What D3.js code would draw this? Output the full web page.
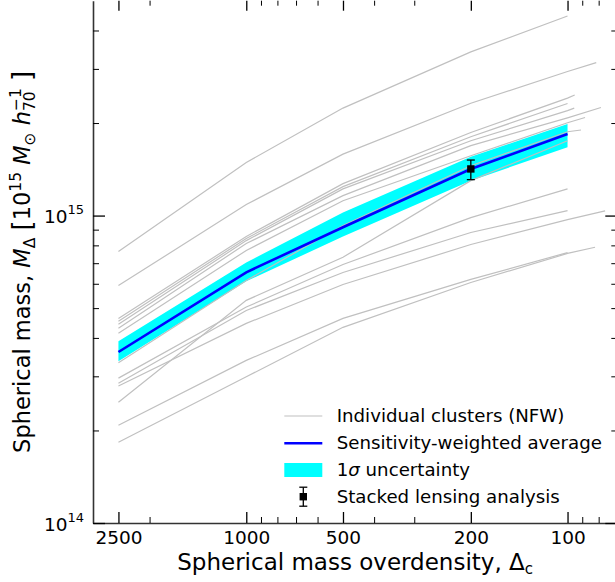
<!DOCTYPE html>
<html><head><meta charset="utf-8">
<script src="https://cdn.jsdelivr.net/npm/d3@7"></script>
<style>
body{margin:0;background:#fff}
svg{display:block}
text{font-family:"DejaVu Sans",sans-serif;fill:#000}
</style>
</head><body>
<svg id="chart" width="615" height="582"></svg>
<script>
// ---- data (masses in units of 10^14 Msun h70^-1) ----
const overdensities = [2500, 1000, 500, 200, 100];
const clusterMasses = [
  [7.64, 14.89, 22.37, 34.08, 44.6],
  [5.92, 10.86, 15.84, 23.19, 29.41],
  [4.63, 8.55, 12.70, 18.64, 24.10],
  [4.53, 8.42, 12.42, 18.05, 23.16],
  [4.43, 8.29, 12.21, 17.52, 21.95],
  [4.30, 8.11, 11.61, 16.88, 20.80],
  [4.14, 7.70, 11.18, 15.66, 20.04],
  [3.32, 6.15, 9.28, 14.53, 18.74],
  [2.47, 5.30, 7.32, 12.99, 17.52],
  [2.96, 5.04, 6.93, 9.85, 12.21],
  [2.85, 4.91, 6.53, 8.81, 10.38],
  [2.79, 4.46, 5.97, 8.05, 9.70],
  [2.08, 3.38, 4.63, 6.20, 7.58],
  [1.83, 2.99, 4.33, 6.06, 7.53]
];
const clusterEndDelta = [null, 81.4, 95, null, 95.3, 78.7, 88.2, 90.8, null, null, null, 76.4, null, 82.1];
const clusterEndMass  = [null, 31.46, 24.66, null, 22.37, 22.47, 20.85, 18.98, null, null, null, 10.36, null, 7.89];
const meanMass  = [3.60, 6.54, 9.16, 14.18, 18.42];
const bandLow   = [3.36, 6.11, 8.55, 12.99, 16.67];
const bandHigh  = [3.90, 7.04, 10.23, 15.54, 19.85];
const stackedDelta = [200];
const stackedMass  = [14.18];
const stackedLow   = [13.09];
const stackedHigh  = [15.16];
const xMajorTicks = [2500, 1000, 500, 200, 100];
const xMinorTicks = [2000, 900, 800, 700, 600, 400, 300, 90, 80];
const yMajorTicks = [1, 10];
const yMajorExp   = ["14", "15"];
const yMinorTicks = [2, 3, 4, 5, 6, 7, 8, 9, 20, 30, 40];
const legendLabels = ["Individual clusters (NFW)", "Sensitivity-weighted average", "1σ uncertainty", "Stacked lensing analysis"];

// ---- layout ----
const L = 93, R = 617.3, T = 0.7, B = 523;
const svg = d3.select("#chart");
const x = d3.scaleLog().domain([3000, 70]).range([L, R]);
const y = d3.scaleLog().domain([1, 50]).range([B, T]);

const GRAY = "#c0c0c0", BLUE = "#0000ff", CYAN = "#00ffff";

// band
const bandData = overdensities.map((d, i) => ({d, lo: bandLow[i], hi: bandHigh[i]}));
svg.append("path").datum(bandData)
  .attr("d", d3.area().x(p => x(p.d)).y0(p => y(p.lo)).y1(p => y(p.hi)))
  .attr("fill", CYAN).attr("stroke", "none");

// cluster lines
const line = d3.line().x(p => x(p[0])).y(p => y(p[1]));
clusterMasses.forEach((ms, i) => {
  const pts = overdensities.map((d, j) => [d, ms[j]]);
  if (clusterEndDelta[i] !== null) pts.push([clusterEndDelta[i], clusterEndMass[i]]);
  svg.append("path").datum(pts).attr("d", line)
    .attr("fill", "none").attr("stroke", GRAY).attr("stroke-width", 1.2);
});

// mean line
svg.append("path").datum(overdensities.map((d, j) => [d, meanMass[j]])).attr("d", line)
  .attr("fill", "none").attr("stroke", BLUE).attr("stroke-width", 2.6);

// stacked point
stackedDelta.forEach((d, i) => {
  const cx = x(d);
  const g = svg.append("g");
  g.append("line").attr("x1", cx).attr("x2", cx).attr("y1", y(stackedLow[i])).attr("y2", y(stackedHigh[i]))
    .attr("stroke", "#000").attr("stroke-width", 1.3);
  [stackedLow[i], stackedHigh[i]].forEach(v => g.append("line")
    .attr("x1", cx - 4).attr("x2", cx + 4).attr("y1", y(v)).attr("y2", y(v))
    .attr("stroke", "#000").attr("stroke-width", 1.3));
  g.append("rect").attr("x", cx - 3.7).attr("y", y(stackedMass[i]) - 3.7).attr("width", 7.4).attr("height", 7.4).attr("fill", "#000");
});

// ---- axes ----
function styleAxis(g, hideDomain, width) {
  g.select(".domain").attr("stroke", hideDomain ? "none" : "#333").attr("stroke-width", 1.6);
  g.selectAll(".tick line").attr("stroke", "#000").attr("stroke-width", width);
}
// bottom
const bx = svg.append("g").attr("transform", `translate(0,${B})`)
  .call(d3.axisBottom(x).tickValues(xMajorTicks).tickFormat(d3.format("d")).tickSize(-11).tickSizeOuter(0).tickPadding(8.2));
styleAxis(bx, false, 1.3);
bx.selectAll("text").style("font-size", "18.5px").attr("fill", "#000");
const bxm = svg.append("g").attr("transform", `translate(0,${B})`)
  .call(d3.axisBottom(x).tickValues(xMinorTicks).tickFormat("").tickSize(-6).tickSizeOuter(0));
styleAxis(bxm, true, 1);
// top
const tx = svg.append("g").attr("transform", `translate(0,${T})`)
  .call(d3.axisTop(x).tickValues(xMajorTicks).tickFormat("").tickSize(-10).tickSizeOuter(0));
styleAxis(tx, true, 1.3);
const txm = svg.append("g").attr("transform", `translate(0,${T})`)
  .call(d3.axisTop(x).tickValues(xMinorTicks).tickFormat("").tickSize(-5).tickSizeOuter(0));
styleAxis(txm, true, 1);
// left
const ly = svg.append("g").attr("transform", `translate(${L},0)`)
  .call(d3.axisLeft(y).tickValues(yMajorTicks).tickFormat("").tickSize(-12).tickSizeOuter(0));
styleAxis(ly, false, 1.3);
const lym = svg.append("g").attr("transform", `translate(${L},0)`)
  .call(d3.axisLeft(y).tickValues(yMinorTicks).tickFormat("").tickSize(-6).tickSizeOuter(0));
styleAxis(lym, true, 1);
ly.selectAll(".tick").each(function(d, i) {
  const t = d3.select(this).select("text");
  t.attr("x", -9).attr("dy", null).attr("y", 7).attr("text-anchor", "end").style("font-size", "18.5px");
  t.text(null);
  t.append("tspan").text("10");
  t.append("tspan").attr("dy", -9).style("font-size", "13px").text(yMajorExp[i]);
});
// right
const ry = svg.append("g").attr("transform", `translate(${R},0)`)
  .call(d3.axisRight(y).tickValues(yMajorTicks).tickFormat("").tickSize(-12).tickSizeOuter(0));
styleAxis(ry, true, 1.3);
const rym = svg.append("g").attr("transform", `translate(${R},0)`)
  .call(d3.axisRight(y).tickValues(yMinorTicks).tickFormat("").tickSize(-6).tickSizeOuter(0));
styleAxis(rym, true, 1);

// axis labels
svg.append("text").attr("x", (L + R) / 2).attr("y", 570).attr("text-anchor", "middle")
  .style("font-size", "23px")
  .call(t => {
    t.append("tspan").text("Spherical mass overdensity, Δ");
    t.append("tspan").attr("dy", 4).style("font-size", "15px").text("c");
  });

const yl = svg.append("text").attr("transform", `translate(30,${(T + B) / 2}) rotate(-90)`)
  .attr("text-anchor", "middle").style("font-size", "22.5px");
yl.append("tspan").text("Spherical mass, ");
yl.append("tspan").style("font-style", "italic").text("M");
yl.append("tspan").attr("dy", 5).style("font-size", "15.5px").text("Δ");
yl.append("tspan").attr("dy", -5).text("\u00a0");
yl.append("tspan").attr("dy", 1).style("font-size", "26px").text("[");
yl.append("tspan").attr("dy", -1).text("10");
yl.append("tspan").attr("dy", -9).style("font-size", "15.5px").text("15");
yl.append("tspan").attr("dy", 9).text("\u00a0");
yl.append("tspan").style("font-style", "italic").text("M");
yl.append("tspan").attr("dy", 5).style("font-size", "15.5px").text("⊙");
yl.append("tspan").attr("dy", -5).text("\u00a0");
yl.append("tspan").style("font-style", "italic").text("h");
const sub70 = yl.append("tspan").attr("dy", 5).style("font-size", "15.5px").text("70");
const sup1 = yl.append("tspan").attr("dy", -14).style("font-size", "15.5px").text("−1");
yl.append("tspan").attr("dy", 9).text("\u00a0");
yl.append("tspan").attr("dy", 1).style("font-size", "26px").text("]");
sup1.attr("dx", -sub70.node().getComputedTextLength());

// ---- legend ----
const legY = [416, 443.3, 470, 496.7];
const hx0 = 284.3, hx1 = 322.3, lx = 336.7;
const lg = svg.append("g");
lg.append("line").attr("x1", hx0).attr("x2", hx1).attr("y1", legY[0]).attr("y2", legY[0]).attr("stroke", GRAY).attr("stroke-width", 1.2);
lg.append("line").attr("x1", hx0).attr("x2", hx1).attr("y1", legY[1]).attr("y2", legY[1]).attr("stroke", BLUE).attr("stroke-width", 2.6);
lg.append("rect").attr("x", hx0).attr("y", legY[2] - 7).attr("width", hx1 - hx0).attr("height", 14).attr("fill", CYAN);
const mx = (hx0 + hx1) / 2;
lg.append("line").attr("x1", mx).attr("x2", mx).attr("y1", legY[3] - 9.5).attr("y2", legY[3] + 9.5).attr("stroke", "#000").attr("stroke-width", 1.3);
[-9.5, 9.5].forEach(o => lg.append("line").attr("x1", mx - 4).attr("x2", mx + 4).attr("y1", legY[3] + o).attr("y2", legY[3] + o).attr("stroke", "#000").attr("stroke-width", 1.3));
lg.append("rect").attr("x", mx - 3.7).attr("y", legY[3] - 3.7).attr("width", 7.4).attr("height", 7.4).attr("fill", "#000");
legendLabels.forEach((s, i) => {
  const t = lg.append("text").attr("x", lx).attr("y", legY[i] + 6).style("font-size", "18.2px");
  if (s.indexOf("σ") >= 0) {
    const parts = s.split("σ");
    t.append("tspan").text(parts[0]);
    t.append("tspan").style("font-style", "italic").text("σ");
    t.append("tspan").text(parts[1]);
  } else t.text(s);
});
</script>
</body></html>
